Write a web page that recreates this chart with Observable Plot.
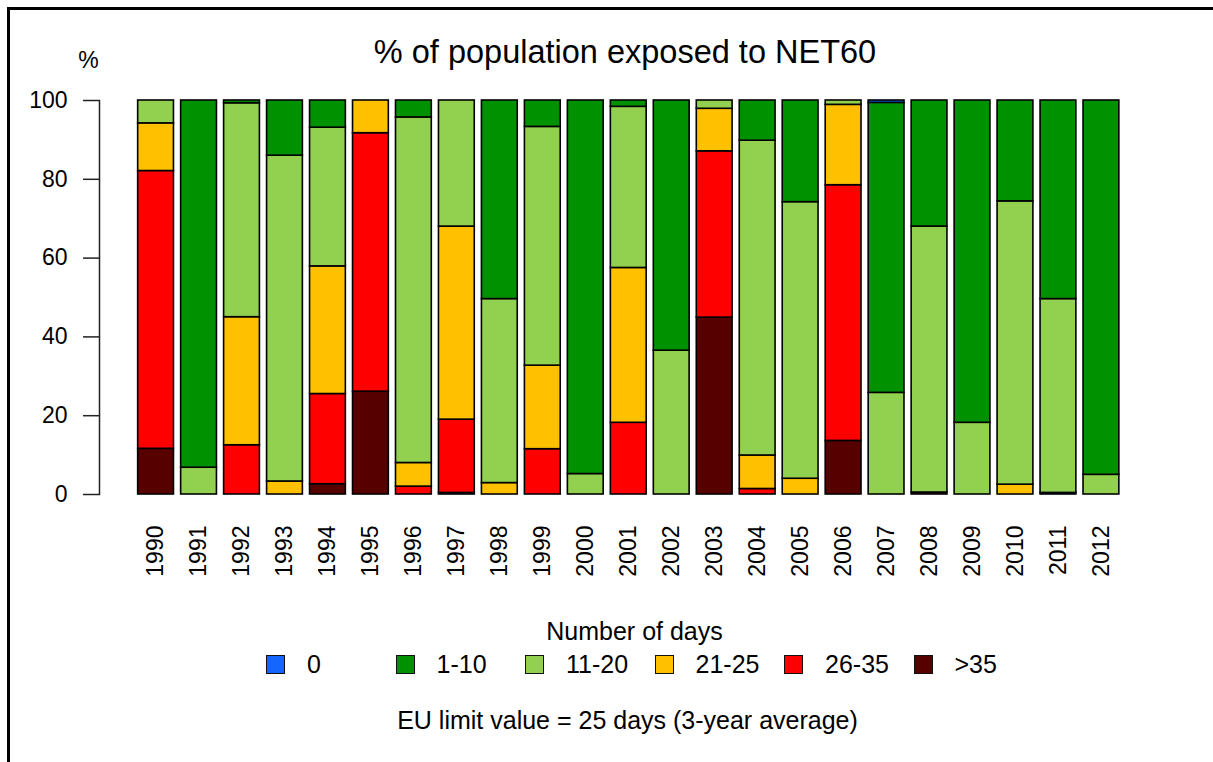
<!DOCTYPE html>
<html><head><meta charset="utf-8">
<script src="https://cdn.jsdelivr.net/npm/d3@7"></script>
<script src="https://cdn.jsdelivr.net/npm/@observablehq/plot@0.6"></script>
<style>
body{margin:0;background:#fff;font-family:"Liberation Sans",Arial,Helvetica,sans-serif;color:#000;}
#wrap{position:relative;width:1213px;height:762px;overflow:hidden;background:#fff;}
.bt{position:absolute;left:7px;top:7px;width:1206px;height:3px;background:#000;}
.bl{position:absolute;left:7px;top:7px;width:3px;height:755px;background:#000;}
#chart{position:absolute;left:0;top:0;}
.lg-title{position:absolute;left:0;width:1269px;top:616px;text-align:center;font-size:25px;line-height:30px;}
.lg-item{position:absolute;top:654px;height:20px;display:flex;align-items:center;font-size:25px;}
.lg-sw{width:17px;height:17px;border:1px solid #111;margin-right:22px;flex:none;}
.caption{position:absolute;left:0;width:1255px;top:705px;text-align:center;font-size:25px;line-height:30px;}
</style>
</head><body>
<div id="wrap">
  <div id="chart"></div>
  <div class="lg-title">Number of days</div>
  <div id="legend"></div>
  <div class="caption">EU limit value = 25 days (3-year average)</div>
  <div class="bt"></div><div class="bl"></div>
</div>
<script>
const years = [1990,1991,1992,1993,1994,1995,1996,1997,1998,1999,2000,2001,2002,2003,2004,2005,2006,2007,2008,2009,2010,2011,2012];
const categories = ["0","1-10","11-20","21-25","26-35",">35"];
const colors = ["#1466ff","#009100","#92d050","#ffc000","#ff0000","#560000"];
const vOver35 = [11.6,0,0,0,2.6,26.1,0,0.4,0,0,0,0,0,44.9,0,0,13.6,0,0.5,0,0,0.4,0];
const v26_35  = [70.5,0,12.5,0,22.9,65.6,2.0,18.6,0,11.5,0,18.2,0,42.2,1.4,0,64.9,0,0,0,0,0,0];
const v21_25  = [12.1,0,32.5,3.3,32.4,8.3,6.0,49.0,2.9,21.2,0,39.3,0,10.8,8.5,4.0,20.4,0,0,0,2.5,0,0];
const v11_20  = [5.8,6.8,54.3,82.7,35.2,0,87.7,32.0,46.7,60.6,5.2,40.9,36.5,2.1,79.9,70.2,1.1,25.8,67.5,18.2,71.9,49.2,5.0];
const v1_10   = [0,93.2,0.7,14.0,6.9,0,4.3,0,50.4,6.7,94.8,1.6,63.5,0,10.2,25.8,0,73.6,32.0,81.8,25.6,50.4,95.0];
const v0      = [0,0,0,0,0,0,0,0,0,0,0,0,0,0,0,0,0,0.6,0,0,0,0,0];
const yTicks = [0,20,40,60,80,100];
const title = "% of population exposed to NET60";

const series = [[">35", vOver35],["26-35", v26_35],["21-25", v21_25],["11-20", v11_20],["1-10", v1_10],["0", v0]];
const data = [];
years.forEach((yr, i) => {
  for (const [cat, arr] of series) {
    if (arr[i] > 0) data.push({year: yr, cat, value: arr[i]});
  }
});

const chart = Plot.plot({
  width: 1213,
  height: 600,
  marginTop: 100,
  marginBottom: 106,
  marginLeft: 99,
  marginRight: 87,
  style: {fontFamily: "'Liberation Sans', Arial, Helvetica, sans-serif", fontSize: "23px", color: "#000", background: "transparent"},
  x: {type: "band", domain: years, padding: 0.2/1.2, round: false, insetLeft: 31.5, axis: null},
  y: {domain: [0, 100]},
  color: {domain: categories, range: colors},
  marks: [
    Plot.barY(data, {x: "year", y: "value", fill: "cat", order: [">35","26-35","21-25","11-20","1-10","0"], stroke: "#000", strokeWidth: 1.6}),
    Plot.frame({anchor: "left", stroke: "#222", strokeWidth: 1.5}),
    Plot.axisY({ticks: yTicks, tickSize: 16, tickPadding: 16, fontSize: 23, label: null, strokeWidth: 1.5, stroke: "#222"}),
    Plot.text(years, {x: d => d, frameAnchor: "bottom", dy: 31, rotate: -90, textAnchor: "end", lineAnchor: "middle", fontSize: 23, text: d => String(d)}),
    Plot.text([title], {frameAnchor: "top", dx: 12, dy: -48, fontSize: 32.5, lineAnchor: "middle"}),
    Plot.text(["%"], {frameAnchor: "top-left", dx: -11, dy: -40, fontSize: 23, textAnchor: "middle", lineAnchor: "middle"})
  ]
});
document.getElementById("chart").appendChild(chart);

const legend = document.getElementById("legend");
categories.forEach((c, i) => {
  const item = document.createElement("div");
  item.className = "lg-item";
  item.style.left = (266 + i * 129.5) + "px";
  const sw = document.createElement("div");
  sw.className = "lg-sw";
  sw.style.background = colors[i];
  const t = document.createElement("span");
  t.textContent = c;
  item.appendChild(sw); item.appendChild(t);
  legend.appendChild(item);
});
</script>
</body></html>
